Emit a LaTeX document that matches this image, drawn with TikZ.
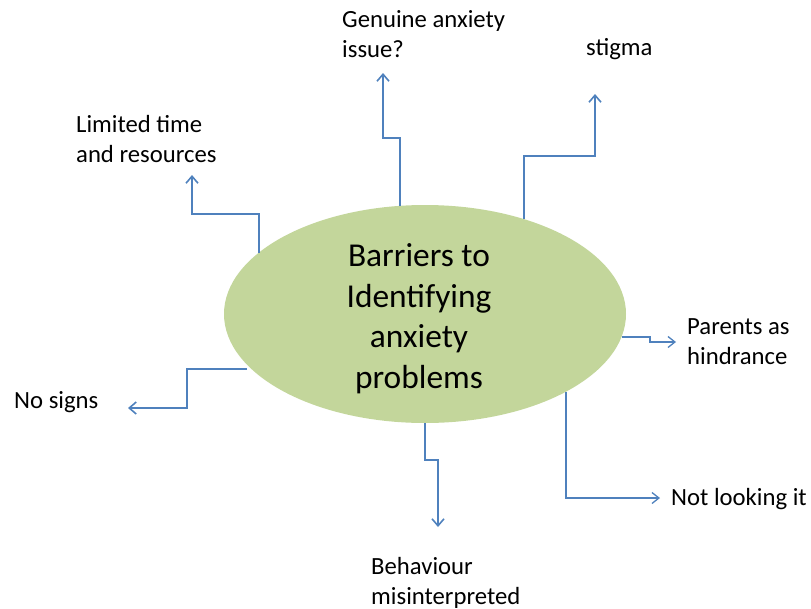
\documentclass[tikz,border=0pt]{standalone}
\usepackage{fontspec}
\setmainfont{Carlito}
\usetikzlibrary{shapes.geometric,arrows.meta}
\definecolor{ellfill}{RGB}{195,214,155}
\definecolor{conn}{RGB}{79,129,189}
\tikzset{
  lbl/.style={inner sep=0pt, anchor=north west, align=left, font=\fontsize{24.7}{30}\selectfont},
  thick conn/.style={draw=conn, line width=2pt, -{Straight Barb[length=7pt,width=12pt,line width=1.6pt]}},
  thin conn/.style={draw=conn, line width=1.3pt, -{Straight Barb[length=7pt,width=11pt,line width=1.3pt]}},
}
\begin{document}
\begin{tikzpicture}[x=1pt,y=-1pt]
\useasboundingbox (0,0) rectangle (811,608);
\node (c) [ellipse, fill=ellfill, minimum width=402pt, minimum height=218pt, inner sep=0pt] at (425,314) {};
\node (ct) [inner sep=0pt, align=center, font=\fontsize{33.4}{40.5}\selectfont] at (419,318.5)
  {Barriers to\\Identifying\\anxiety\\problems};

% labels
\node (lt) [lbl] at (76,111) {\strut Limited time\\and resources};
\node (ga) [lbl] at (342,6) {\strut Genuine anxiety\\issue?};
\node (st) [lbl] at (586,34) {\strut stigma};
\node (pa) [lbl] at (687,313) {\strut Parents as\\hindrance};
\node (ns) [lbl] at (14,387) {\strut No signs};
\node (bm) [lbl] at (371,553) {\strut Behaviour\\misinterpreted};
\node (nl) [lbl] at (671,484) {\strut Not looking it};

% start coordinates on the ellipse and arrow ends
\coordinate (s1) at (259,253);  \coordinate (e1) at (192,175);
\coordinate (s2) at (400,206);  \coordinate (e2) at (383,73);
\coordinate (s3) at (524,219);  \coordinate (e3) at (595,94);
\coordinate (s4) at (622,337);  \coordinate (e4) at (676,342);
\coordinate (s5) at (247,369);  \coordinate (e5) at (128,408);
\coordinate (s6) at (425,423);  \coordinate (e6) at (438,527);
\coordinate (s7) at (566,392);  \coordinate (e7) at (660,498);

\draw[thick conn] (s1) -- (259,214) -- (192,214) -- (e1);
\draw[thick conn] (s2) -- (400,138) -- (383,138) -- (e2);
\draw[thick conn] (s3) -- (524,156) -- (595,156) -- (e3);
\draw[thin conn] (s4) -- (650,337) -- (650,342) -- (e4);
\draw[thick conn] (s5) -- (187,369) -- (187,408) -- (e5);
\draw[thick conn] (s6) -- (425,460) -- (438,460) -- (e6);
\draw[thin conn] (s7) -- (566,498) -- (e7);
\end{tikzpicture}
\end{document}
